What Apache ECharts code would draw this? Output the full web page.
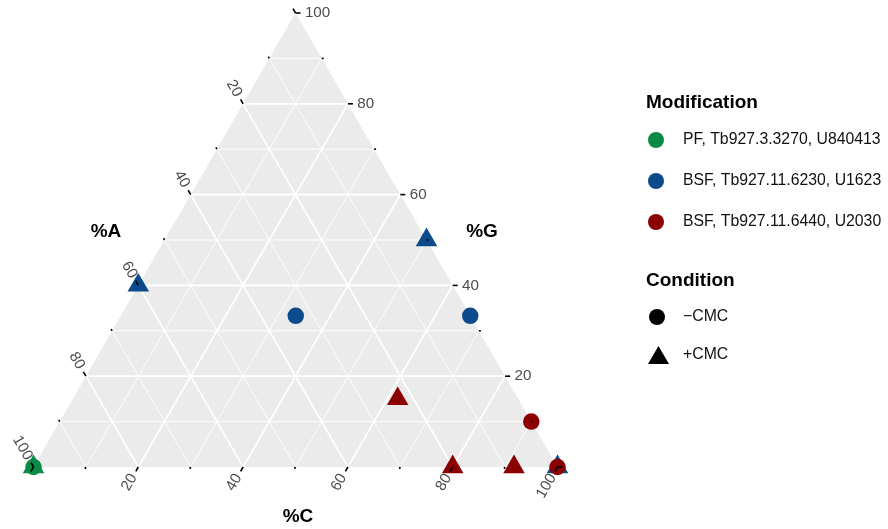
<!DOCTYPE html>
<html>
<head>
<meta charset="utf-8">
<script src="https://cdn.jsdelivr.net/npm/echarts@6/dist/echarts.min.js"></script>
<style>
  html, body { margin: 0; padding: 0; background: #fff; }
  #chart { width: 888px; height: 529px; }
</style>
</head>
<body>
<div id="chart"></div>
<script>
// Sample compositions, each given as [%A, %G, %C]
const modifications = ['PF, Tb927.3.3270, U840413', 'BSF, Tb927.11.6230, U1623', 'BSF, Tb927.11.6440, U2030'];
const conditions = ['\u2212CMC', '+CMC'];
const modColors = ['#0A8A47', '#0B4A8B', '#8B0000'];

const pfMinus    = [[100, 0, 0]];
const pfPlus     = [[100, 0, 0]];
const u1623Minus = [[33.3, 33.3, 33.4], [0, 33.3, 66.7]];
const u1623Plus  = [[60, 40, 0], [0, 50, 50], [0, 0, 100]];
const u2030Minus = [[0, 10, 90], [0, 0, 100]];
const u2030Plus  = [[23, 15, 62], [20, 0, 80], [8.3, 0, 91.7]];

const tickValues = [0, 10, 20, 30, 40, 50, 60, 70, 80, 90, 100];
const tickLabels = ['', '', '20', '', '40', '', '60', '', '80', '', '100'];
const gridValues = [10, 20, 30, 40, 50, 60, 70, 80, 90];
const axisTitles = ['%A', '%G', '%C'];

const SQ = Math.sqrt(3) / 2;
const FONT = '"Liberation Sans", Arial, Helvetica, sans-serif';

// ternary [A, G, C] -> cartesian: A at bottom-left, G at top, C at bottom-right
function toXY(p) {
  const s = p[0] + p[1] + p[2];
  return [(p[2] + p[1] / 2) / s, (p[1] * SQ) / s];
}

// grid lines: constant A, constant G, constant C
const gridLines = [];
gridValues.forEach(function (k) {
  const major = k % 20 === 0 ? 1 : 0;
  const segs = [
    [[k, 100 - k, 0], [k, 0, 100 - k]],
    [[100 - k, k, 0], [0, k, 100 - k]],
    [[100 - k, 0, k], [0, 100 - k, k]]
  ];
  segs.forEach(function (s) {
    const a = toXY(s[0]), b = toXY(s[1]);
    gridLines.push([a[0], a[1], b[0], b[1], major]);
  });
});

// ticks on the three edges: axis 0 = A (left), 1 = G (right), 2 = C (bottom)
const ticks = [];
tickValues.forEach(function (v, i) {
  const pts = [
    toXY([v, 100 - v, 0]),
    toXY([0, v, 100 - v]),
    toXY([100 - v, 0, v])
  ];
  pts.forEach(function (p, ax) {
    ticks.push({ value: [p[0], p[1], ax, v % 20 === 0 ? 1 : 0], label: tickLabels[i] });
  });
});

const tickDirs = [[-0.5, -SQ], [1, 0], [-0.5, SQ]];
const labelRot = [-Math.PI / 3, 0, Math.PI / 3];
const labelAlign = ['right', 'left', 'right'];

const triVerts = [toXY([100, 0, 0]), toXY([0, 100, 0]), toXY([0, 0, 100])];

function scatter(name, pts, shape, color) {
  const tri = shape === 'triangle';
  return {
    type: 'scatter',
    name: name,
    data: pts.map(toXY),
    symbol: shape,
    symbolSize: tri ? [21.5, 18.6] : 16.5,
    symbolOffset: tri ? [0, -3.1] : [0, 0],
    itemStyle: { color: color, opacity: 1 },
    emphasis: { disabled: true },
    silent: true,
    z: 3
  };
}

const legendText = { fontFamily: FONT, fontSize: 15.8, color: '#111' };

const chart = echarts.init(document.getElementById('chart'), null, { renderer: 'canvas' });

chart.setOption({
  animation: false,
  backgroundColor: '#fff',
  grid: { left: 33.5, top: 13, width: 524, height: 454 },
  xAxis: { type: 'value', min: 0, max: 1, show: false },
  yAxis: { type: 'value', min: 0, max: SQ, show: false },
  legend: [
    {
      data: modifications.map(function (n, i) {
        return { name: n, icon: 'circle', itemStyle: { color: modColors[i] } };
      }),
      orient: 'vertical', left: 648, top: 132, padding: 0,
      itemWidth: 16, itemHeight: 16, itemGap: 25, selectedMode: false,
      textStyle: Object.assign({ padding: [0, 0, 0, 14] }, legendText)
    },
    {
      data: [{ name: conditions[0], icon: 'circle', itemStyle: { color: '#000', opacity: 1 } }],
      orient: 'vertical', left: 649, top: 309, padding: 0,
      itemWidth: 16, itemHeight: 16, selectedMode: false,
      textStyle: Object.assign({ padding: [0, 0, 0, 13] }, legendText)
    },
    {
      data: [{ name: conditions[1], icon: 'triangle', itemStyle: { color: '#000', opacity: 1 } }],
      orient: 'vertical', left: 648, top: 346, padding: 0,
      itemWidth: 21, itemHeight: 18, selectedMode: false,
      textStyle: Object.assign({ padding: [2, 0, 0, 9] }, legendText)
    }
  ],
  graphic: [
    { type: 'text', x: 106, y: 232, style: { text: axisTitles[0], font: 'bold 19px ' + FONT, fill: '#000', align: 'center', verticalAlign: 'middle', textAlign: 'center', textVerticalAlign: 'middle' } },
    { type: 'text', x: 482, y: 232, style: { text: axisTitles[1], font: 'bold 19px ' + FONT, fill: '#000', align: 'center', verticalAlign: 'middle', textAlign: 'center', textVerticalAlign: 'middle' } },
    { type: 'text', x: 298, y: 516.5, style: { text: axisTitles[2], font: 'bold 19px ' + FONT, fill: '#000', align: 'center', verticalAlign: 'middle', textAlign: 'center', textVerticalAlign: 'middle' } },
    { type: 'text', x: 646, y: 103, style: { text: 'Modification', font: 'bold 19px ' + FONT, fill: '#000', align: 'left', verticalAlign: 'middle', textAlign: 'left', textVerticalAlign: 'middle' } },
    { type: 'text', x: 646, y: 281, style: { text: 'Condition', font: 'bold 19px ' + FONT, fill: '#000', align: 'left', verticalAlign: 'middle', textAlign: 'left', textVerticalAlign: 'middle' } }
  ],
  series: [
    {
      // panel background
      type: 'custom', silent: true, z: 0,
      data: [[0, 0]],
      renderItem: function (params, api) {
        return {
          type: 'polygon',
          shape: { points: triVerts.map(function (v) { return api.coord(v); }) },
          style: { fill: '#EBEBEB' }
        };
      }
    },
    {
      // white grid lines
      type: 'custom', silent: true, z: 1,
      data: gridLines,
      renderItem: function (params, api) {
        const a = api.coord([api.value(0), api.value(1)]);
        const b = api.coord([api.value(2), api.value(3)]);
        return {
          type: 'line',
          shape: { x1: a[0], y1: a[1], x2: b[0], y2: b[1] },
          style: { stroke: '#fff', lineWidth: api.value(4) ? 1.7 : 0.9 }
        };
      }
    },
    scatter(modifications[0], pfMinus, 'circle', modColors[0]),
    scatter(modifications[0], pfPlus, 'triangle', modColors[0]),
    scatter(modifications[1], u1623Minus, 'circle', modColors[1]),
    scatter(modifications[1], u1623Plus, 'triangle', modColors[1]),
    scatter(modifications[2], u2030Minus, 'circle', modColors[2]),
    scatter(modifications[2], u2030Plus, 'triangle', modColors[2]),
    { type: 'scatter', name: conditions[0], data: [], symbol: 'circle', itemStyle: { color: '#000' } },
    { type: 'scatter', name: conditions[1], data: [], symbol: 'triangle', itemStyle: { color: '#000' } },
    {
      // edge ticks and tick labels
      type: 'custom', silent: true, z: 5,
      data: ticks,
      renderItem: function (params, api) {
        const p = api.coord([api.value(0), api.value(1)]);
        const ax = api.value(2);
        const major = api.value(3);
        const d = tickDirs[ax];
        const len = major ? 5 : 2;
        const children = [{
          type: 'line',
          shape: { x1: p[0], y1: p[1], x2: p[0] + d[0] * len, y2: p[1] + d[1] * len },
          style: { stroke: '#000', lineWidth: 1.6 }
        }];
        const txt = ticks[params.dataIndex].label;
        if (txt) {
          const off = 9.4;
          children.push({
            type: 'text',
            x: p[0] + d[0] * off,
            y: p[1] + d[1] * off,
            rotation: labelRot[ax],
            style: {
              text: txt, font: '15.2px ' + FONT, fill: '#4D4D4D',
              align: labelAlign[ax], verticalAlign: 'middle'
            }
          });
        }
        return { type: 'group', children: children };
      }
    }
  ]
});
</script>
</body>
</html>
